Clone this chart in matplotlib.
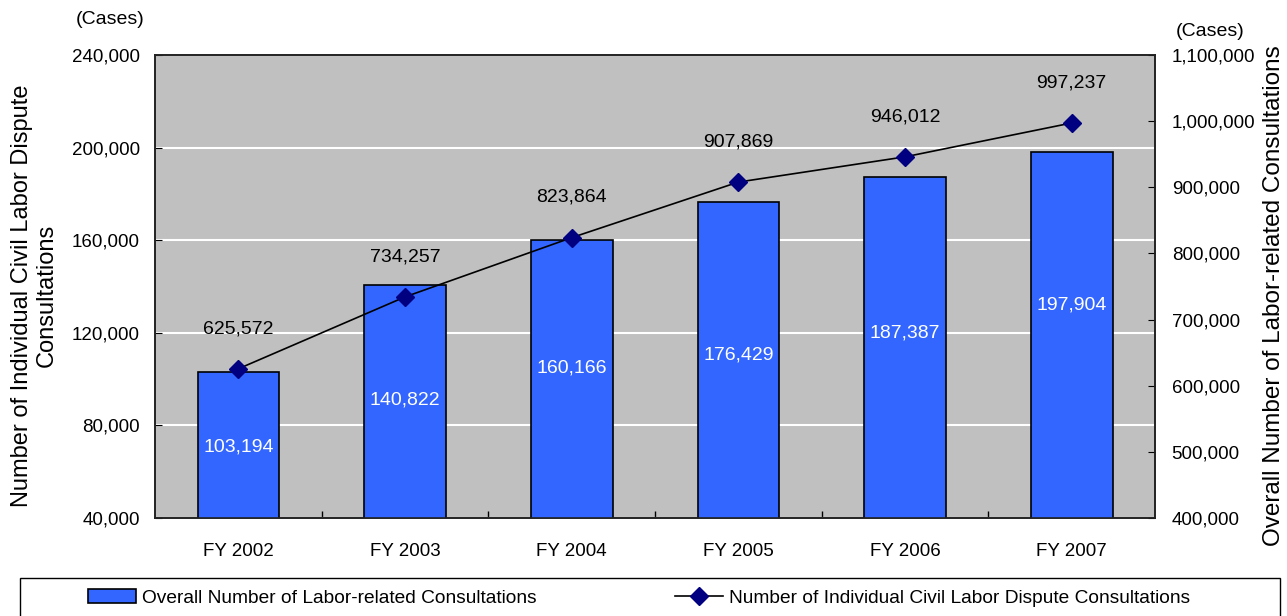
import matplotlib.pyplot as plt
from matplotlib.patches import Rectangle
from matplotlib.lines import Line2D
import numpy as np

plt.rcParams["font.family"] = ["Liberation Sans", "DejaVu Sans"]

years = ["FY 2002", "FY 2003", "FY 2004", "FY 2005", "FY 2006", "FY 2007"]
overall = [103194, 140822, 160166, 176429, 187387, 197904]
individual = [625572, 734257, 823864, 907869, 946012, 997237]

# where the white value labels sit inside each bar (left-axis units)
bar_label_y = [70700, 91000, 104800, 110400, 119900, 132000]

BAR_BLUE = "#3366FF"
NAVY = "#000080"
PLOT_BG = "#C0C0C0"
W, H = 1287, 616

fig = plt.figure(figsize=(W / 100, H / 100), dpi=100)
ax = fig.add_axes([155 / W, 1 - 518 / H, 1000 / W, 463 / H])
ax2 = ax.twinx()

x = np.arange(len(years))
ax.set_facecolor(PLOT_BG)
bars = ax.bar(x, overall, width=0.49, color=BAR_BLUE, edgecolor="black", linewidth=1.2, zorder=3)
for xi, v, ly in zip(x, overall, bar_label_y):
    ax.text(xi, ly, f"{v:,}", ha="center", va="center", color="white", fontsize=14, zorder=4)

line, = ax2.plot(x, individual, color="black", linewidth=1.2, marker="D", markersize=9,
                 markerfacecolor=NAVY, markeredgecolor=NAVY, zorder=5)
for xi, v in zip(x, individual):
    ax2.annotate(f"{v:,}", (xi, v), xytext=(0, 29), textcoords="offset points",
                 ha="center", va="center", fontsize=14)

ax.set_xlim(-0.5, len(years) - 0.5)
ax.set_ylim(40000, 240000)
ax.set_yticks(np.arange(40000, 240001, 40000))
ax.yaxis.set_major_formatter(plt.FuncFormatter(lambda v, p: f"{int(v):,}"))
ax.grid(axis="y", color="white", linewidth=1.5, zorder=1)
ax.set_axisbelow(True)
ax.set_xticks(x)
ax.set_xticklabels(years, fontsize=13.5)
ax.set_xticks(np.arange(0.5, len(years) - 1, 1), minor=True)
ax.tick_params(axis="x", which="major", length=0, pad=18)
ax.tick_params(axis="x", which="minor", length=5, direction="in", width=1)
ax.tick_params(axis="y", labelsize=13.5, length=5, direction="in", pad=11)

ax2.set_ylim(400000, 1100000)
ax2.set_yticks(np.arange(400000, 1100001, 100000))
ax2.yaxis.set_major_formatter(plt.FuncFormatter(lambda v, p: f"{int(v):,}"))
ax2.tick_params(axis="y", labelsize=13.5, length=5, direction="in", pad=12)

for a in (ax, ax2):
    for s in a.spines.values():
        s.set_color("#222222")
        s.set_linewidth(1.2)

ax.set_ylabel("Number of Individual Civil Labor Dispute\nConsultations", fontsize=17,
              linespacing=1.15)
ax.yaxis.set_label_coords(-97 / 1000, 0.48)
ax2.set_ylabel("Overall Number of Labor-related Consultations", fontsize=17.5)
ax2.yaxis.set_label_coords(1 + 108 / 1000, 0.48)

fig.text(110 / W, 1 - 20 / H, "(Cases)", ha="center", va="center", fontsize=14)
fig.text(1210 / W, 1 - 31 / H, "(Cases)", ha="center", va="center", fontsize=14)

# legend band along the bottom edge
fig.patches.append(Rectangle((20 / W, -0.05), 1260 / W, (616 - 578) / H + 0.05,
                             transform=fig.transFigure, facecolor="white",
                             edgecolor="black", linewidth=1.0))
bar_handle = Rectangle((0, 0), 1, 1, facecolor=BAR_BLUE, edgecolor="black", linewidth=1.2)
line_handle = Line2D([], [], color="black", linewidth=1.2, marker="D", markersize=9,
                     markerfacecolor=NAVY, markeredgecolor=NAVY)
legend_items = [
    (bar_handle, "Overall Number of Labor-related Consultations", 88),
    (line_handle, "Number of Individual Civil Labor Dispute Consultations", 675),
]
for handle, text, left in legend_items:
    fig.legend([handle], [text], loc="center left", bbox_to_anchor=(left / W, 1 - 598 / H),
               fontsize=13.8, frameon=False, handlelength=2.5, handletextpad=0.3,
               borderpad=0, borderaxespad=0)

fig.savefig("out.png", dpi=100, facecolor="white")
